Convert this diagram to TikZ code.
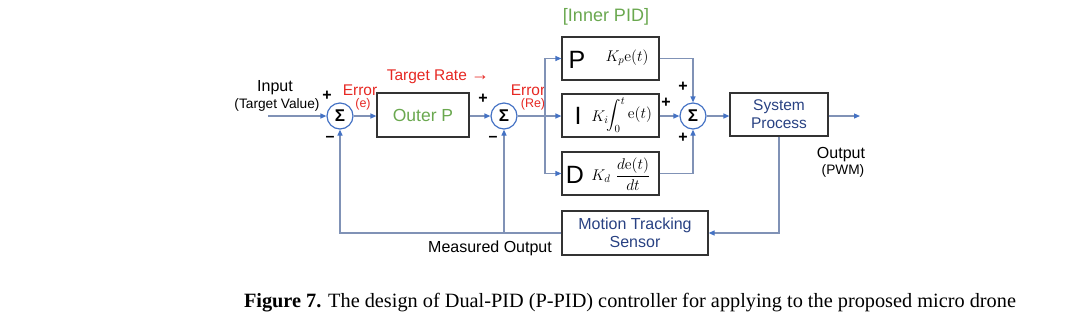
\RequirePackage{fix-cm}
\documentclass[tikz,border=0pt]{standalone}
\usepackage{amsmath}
\usepackage[no-math]{fontspec}
\setmainfont{Liberation Sans}
\newfontfamily\capfont{Liberation Serif}
\usetikzlibrary{arrows.meta}
\definecolor{ln}{RGB}{128,146,182}
\definecolor{tipc}{RGB}{68,114,196}
\definecolor{errred}{RGB}{230,40,35}
\definecolor{grn}{RGB}{106,168,79}
\definecolor{dblue}{RGB}{40,65,130}
\begin{document}
\begin{tikzpicture}[x=1pt,y=-1pt,
  ln/.style={draw=ln, line width=1.2pt},
  arr/.style={ln, -{Triangle[length=6pt,width=5pt,color=tipc]}},
  sum/.style={circle, draw=tipc, line width=1.2pt, minimum size=26pt, inner sep=0pt, font=\fontsize{17}{17}\selectfont\bfseries},
  box/.style={draw=black!80, line width=1.2pt, inner sep=0pt},
  lbl/.style={font=\fontsize{16}{18}\selectfont, inner sep=0pt},
  small/.style={font=\fontsize{13.7}{15}\selectfont, inner sep=0pt},
  red/.style={text=errred, font=\fontsize{15.5}{17}\selectfont, inner sep=0pt},
  redsm/.style={text=errred, font=\fontsize{12.5}{14}\selectfont, inner sep=0pt},
  sign/.style={font=\fontsize{16}{16}\selectfont\bfseries, inner sep=0pt},
  big/.style={font=\fontsize{25}{25}\selectfont, inner sep=0pt},
  mth/.style={font=\fontsize{15.5}{15}\selectfont, inner sep=0pt}
]
\useasboundingbox (0,0) rectangle (1080,325);

% summing junctions
\node[sum] (s1) at (340,116) {Σ};
\node[sum] (s2) at (504,116) {Σ};
\node[sum] (s3) at (693,116) {Σ};

% boxes
\node[box, minimum width=92pt, minimum height=44pt] (op) at (423,115) {};
\node[text=grn, font=\fontsize{17.5}{18}\selectfont, inner sep=0pt] (opt) at (op.center) {Outer P};
\node[box, minimum width=97pt, minimum height=43pt] (pb) at (610.5,58.5) {};
\node[box, minimum width=97pt, minimum height=43pt] (ib) at (610.5,115.5) {};
\node[box, minimum width=97pt, minimum height=43pt] (db) at (610.5,173.5) {};
\node[box, minimum width=98pt, minimum height=43pt] (sp) at (779,114.5) {};
\node[box, minimum width=146pt, minimum height=44pt] (mts) at (635,233) {};

% box contents
\node[big] (pl) at (577,60) {P};
\node[mth] (pm) at (627,58) {$K_p\mathrm{e}(t)$};
\node[big] (il) at (578,116) {I};
\node[mth] (ik) at (600,117) {$K_i$};
\node[font=\fontsize{15.5}{16}\selectfont, inner sep=0pt] (iint) at (616,115) {$\displaystyle\int_0^t$};
\node[mth] (ie) at (640,115) {$\mathrm{e}(t)$};
\node[big] (dl) at (575,175) {D};
\node[mth] (dk) at (601,176) {$K_d$};
\node[font=\fontsize{15.5}{16}\selectfont, inner sep=0pt] (df) at (633,174) {$\displaystyle\frac{d\mathrm{e}(t)}{dt}$};
\node[text=dblue, font=\fontsize{15.5}{18}\selectfont, align=center, inner sep=0pt] (spt) at (sp.center) {System\\Process};
\node[text=dblue, font=\fontsize{16}{18}\selectfont, align=center, inner sep=0pt] (mtst) at (mts.center) {Motion Tracking\\Sensor};

% labels
\node[lbl] (inp) at (275,88) {Input};
\node[small] (tv) at (277,105) {(Target Value)};
\node[sign] (p1) at (327,96) {+};
\node[sign] (m1) at (330,139) {–};
\node[red] (e1) at (360,90) {Error};
\node[redsm] (e1b) at (363,104) {(e)};
\node[red] (tr) at (438,77) {Target Rate \fontsize{18}{18}\selectfont→};
\node[sign] (p2) at (483,99) {+};
\node[sign] (m2) at (493,139) {–};
\node[red] (e2) at (528,90) {Error};
\node[redsm] (e2b) at (533,104) {(Re)};
\node[text=grn, font=\fontsize{18}{20}\selectfont, inner sep=0pt] (ipid) at (606,17) {[Inner PID]};
\node[sign] (p3) at (683,87) {+};
\node[sign] (p4) at (666,103) {+};
\node[sign] (p5) at (683,138) {+};
\node[lbl] (outl) at (841,155) {Output};
\node[small] (pwm) at (843,171) {(PWM)};
\node[lbl] (meas) at (490,248) {Measured Output};

% coordinates
\coordinate (in) at (268,116);
\coordinate (br) at (545,116);
\coordinate (out) at (860,116);

% connectors
\draw[arr] (in) -- (s1.west);
\draw[arr] (s1.east) -- (op.west |- s1.east);
\draw[arr] (op.east |- s2.west) -- (s2.west);
\draw[ln] (s2.east) -- (br);
\draw[arr] (br) |- (pb.west);
\draw[arr] (br) -- (ib.west |- br);
\draw[arr] (br) |- (db.west);
\draw[arr] (pb.east) -| (s3.north);
\draw[arr] (ib.east |- s3.west) -- (s3.west);
\draw[arr] (db.east) -| (s3.south);
\draw[arr] (s3.east) -- (sp.west |- s3.east);
\draw[arr] (sp.east |- out) -- (out);
\draw[arr] (sp.south) |- (mts.east);
\draw[arr] (mts.west) -| (s1.south);
\draw[arr] (mts.west -| s2.south) -- (s2.south);

% caption
\node[font=\capfont\fontsize{20.3}{22}\selectfont, inner sep=0pt] (cap) at (630,303) {\textbf{Figure 7.} The design of Dual-PID (P-PID) controller for applying to the proposed micro drone};
\end{tikzpicture}
\end{document}
